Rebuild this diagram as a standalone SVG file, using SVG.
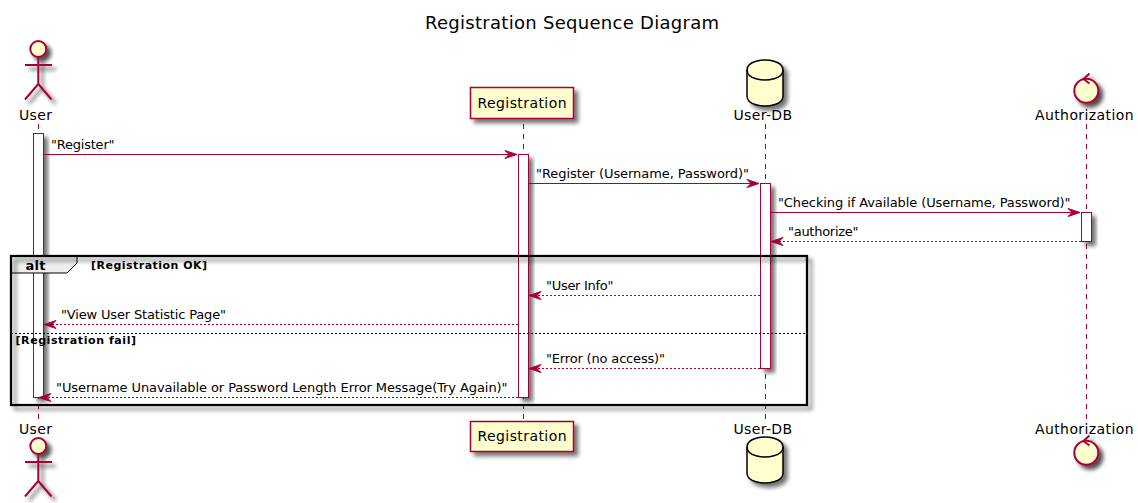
<svg xmlns="http://www.w3.org/2000/svg" width="1138" height="503" viewBox="0 0 1138 503">
<style>
text{font-family:"DejaVu Sans",sans-serif;fill:#000}
.title{font-size:18px}
.name{font-size:14px}
.msg{font-size:13px}
.life{stroke:#A80036;stroke-width:1;stroke-dasharray:5,5;fill:none}
.act{fill:#fff;stroke:#A80036;stroke-width:1}
.solid{stroke:#A80036;stroke-width:1;fill:none}
.dash{stroke:#A80036;stroke-width:1;stroke-dasharray:2,2;fill:none}
.head{fill:#A80036;stroke:#A80036;stroke-width:1}
.part{fill:#FEFECE;stroke:#A80036;stroke-width:1.5}
.round{fill:#FEFECE;stroke:#A80036;stroke-width:2}
.db{fill:#FEFECE;stroke:#000;stroke-width:1.5}
.dbline{fill:none;stroke:#000;stroke-width:1.5}
.fl{fill:none;stroke:#A80036;stroke-width:2}
.frame{fill:none;stroke:#000;stroke-width:2.250}
.alt{font-size:13px;font-weight:bold}
.guard{font-size:11px;font-weight:bold}
</style>
<defs>
<filter id="sh" x="-40%" y="-40%" width="200%" height="200%">
<feGaussianBlur in="SourceAlpha" stdDeviation="2"/>
<feOffset dx="4" dy="4"/>
<feComponentTransfer><feFuncA type="linear" slope="0.55"/></feComponentTransfer>
<feMerge><feMergeNode/><feMergeNode in="SourceGraphic"/></feMerge>
</filter>
<filter id="shfig" filterUnits="userSpaceOnUse" x="0" y="30" width="1138" height="473">
<feGaussianBlur in="SourceAlpha" stdDeviation="2"/>
<feOffset dx="4" dy="4"/>
<feComponentTransfer><feFuncA type="linear" slope="0.7"/></feComponentTransfer>
<feMerge><feMergeNode/><feMergeNode in="SourceGraphic"/></feMerge>
</filter>
<g id="actor">
<circle class="round" cx="38.300" cy="49" r="8"/>
<path class="fl" d="M38.300 57V84M25 65H52M38.300 84L25 99.500M38.300 84L51.500 99.500"/>
</g>
<g id="dbshape">
<path class="db" d="M747 70C747 60 765 60 765 60C765 60 783 60 783 70V96C783 106 765 106 765 106C765 106 747 106 747 96Z"/>
<path class="dbline" d="M747 70C747 80 765 80 765 80C765 80 783 80 783 70"/>
</g>
<g id="control">
<circle class="round" cx="1086.300" cy="90.800" r="12"/>
<path d="M1089.500 73.500L1083.500 79L1089.500 83.500" style="fill:none;stroke:#A80036;stroke-width:2"/>
</g>
</defs>
<text class="title" x="425" y="29" textLength="294">Registration Sequence Diagram</text>

<g id="lifelines">
<line class="life" x1="38.500" y1="124" x2="38.500" y2="420"/>
<line class="life" x1="523.500" y1="124" x2="523.500" y2="420"/>
<line class="life" x1="765.500" y1="124" x2="765.500" y2="420"/>
<line class="life" x1="1086.500" y1="124" x2="1086.500" y2="420"/>
</g>

<g id="activations">
<rect class="act" filter="url(#sh)" x="33.500" y="133.500" width="10" height="264"/>
<rect class="act" filter="url(#sh)" x="518.500" y="154.500" width="10" height="243"/>
<rect class="act" filter="url(#sh)" x="760.500" y="183.500" width="10" height="185"/>
<rect class="act" filter="url(#sh)" x="1081.500" y="212.500" width="10" height="29"/>
</g>

<g id="node-user">
<g filter="url(#shfig)"><use href="#actor"/></g>
<text class="name" x="19" y="120" textLength="33">User</text>
</g>
<g id="node-user-bottom">
<g filter="url(#shfig)"><use href="#actor" y="397"/></g>
<text class="name" x="19" y="434" textLength="33">User</text>
</g>
<g id="node-registration">
<rect class="part" filter="url(#sh)" x="470.500" y="87.500" width="103" height="31"/>
<text class="name" x="477.500" y="108" textLength="89">Registration</text>
</g>
<g id="node-registration-bottom">
<rect class="part" filter="url(#sh)" x="470.500" y="421.500" width="103" height="30"/>
<text class="name" x="477.500" y="441" textLength="89">Registration</text>
</g>
<g id="node-userdb">
<use href="#dbshape" filter="url(#sh)"/>
<text class="name" x="733.500" y="120" textLength="58.500">User-DB</text>
</g>
<g id="node-userdb-bottom">
<use href="#dbshape" y="377" filter="url(#sh)"/>
<text class="name" x="733.500" y="434" textLength="58.500">User-DB</text>
</g>
<g id="node-authorization">
<g filter="url(#shfig)"><use href="#control"/></g>
<text class="name" x="1035" y="120" textLength="98.500">Authorization</text>
</g>
<g id="node-authorization-bottom">
<g filter="url(#shfig)"><use href="#control" y="362"/></g>
<text class="name" x="1035" y="434" textLength="98.500">Authorization</text>
</g>

<g id="connectors">
<line class="solid" x1="43.500" y1="154.500" x2="513" y2="154.500"/>
<path class="head" d="M505 150.500L517 154.500L505 158.500L509 154.500Z"/>
<line class="solid" x1="528.500" y1="183.500" x2="755" y2="183.500"/>
<path class="head" d="M747 179.500L759 183.500L747 187.500L751 183.500Z"/>
<line class="solid" x1="770.500" y1="212.500" x2="1076" y2="212.500"/>
<path class="head" d="M1068 208.500L1080 212.500L1068 216.500L1072 212.500Z"/>
<line class="dash" x1="1081" y1="241.500" x2="775" y2="241.500"/>
<path class="head" d="M783 237.500L771 241.500L783 245.500L779 241.500Z"/>
<line class="dash" x1="760" y1="295.500" x2="533" y2="295.500"/>
<path class="head" d="M541 291.500L529 295.500L541 299.500L537 295.500Z"/>
<line class="dash" x1="518" y1="324.500" x2="48" y2="324.500"/>
<path class="head" d="M56 320.500L44 324.500L56 328.500L52 324.500Z"/>
<line class="dash" x1="760" y1="368.500" x2="533" y2="368.500"/>
<path class="head" d="M541 364.500L529 368.500L541 372.500L537 368.500Z"/>
<line class="dash" x1="518" y1="397.500" x2="43" y2="397.500"/>
<path class="head" d="M51 393.500L39 397.500L51 401.500L47 397.500Z"/>
</g>

<g id="messages">
<text class="msg" x="51" y="149" textLength="63.500">"Register"</text>
<text class="msg" x="536" y="178" textLength="213">"Register (Username, Password)"</text>
<text class="msg" x="778" y="207" textLength="292.500">"Checking if Available (Username, Password)"</text>
<text class="msg" x="788" y="236" textLength="70.500">"authorize"</text>
<text class="msg" x="546" y="290" textLength="67.500">"User Info"</text>
<text class="msg" x="61" y="319" textLength="165">"View User Statistic Page"</text>
<text class="msg" x="546" y="363" textLength="119">"Error (no access)"</text>
<text class="msg" x="56" y="392" textLength="451.500">"Username Unavailable or Password Length Error Message(Try Again)"</text>
</g>

<g id="alt-frame">
<path d="M11 256H77V263L67 273H11Z" style="fill:#EEEEEE;stroke:#000;stroke-width:1"/>
<rect class="frame" filter="url(#sh)" x="11" y="256" width="796" height="149"/>
<line x1="11" y1="333.500" x2="807" y2="333.500" style="stroke:#000;stroke-width:1;stroke-dasharray:2,2"/>
<text class="alt" x="25.500" y="270" textLength="20">alt</text>
<text class="guard" x="91" y="269" textLength="116">[Registration OK]</text>
<text class="guard" x="15.500" y="344" textLength="120.500">[Registration fail]</text>
</g>
</svg>
